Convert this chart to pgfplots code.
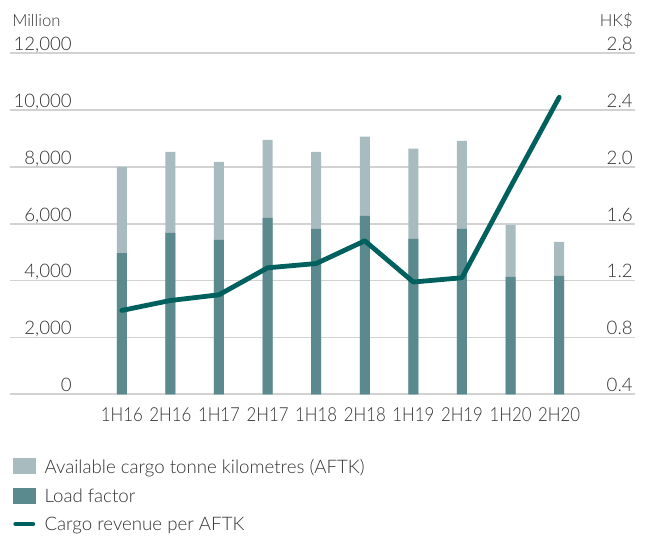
\documentclass[border=0pt]{standalone}
\usepackage{fontspec}
\setmainfont{Lato}[UprightFont={* Light}]
\newfontfamily\narrowfont{Lato}[UprightFont={* Light}, FakeStretch=0.87]
\usepackage{pgfplots}
\pgfplotsset{compat=1.18}
\definecolor{lightbar}{HTML}{A8BBBF}
\definecolor{darkbar}{HTML}{5A8A8D}
\definecolor{linecol}{HTML}{00605E}
\definecolor{gridc}{HTML}{D2D2D2}
\definecolor{txt}{HTML}{333333}
\begin{document}
\begin{tikzpicture}
\useasboundingbox (0pt,0pt) rectangle (484.5pt,403.5pt);
\begin{axis}[
  at={(7.5pt,107.8pt)}, anchor=south west,
  scale only axis, width=468.75pt, height=255.75pt,
  xmin=-2.3, xmax=10.56, ymin=0, ymax=12000,
  ybar, bar width=7.5pt,
  axis line style={draw=none}, major tick length=0pt,
  ymajorgrids, grid style={gridc, line width=1.2pt},
  ytick={0,2000,4000,6000,8000,10000,12000},
  xtick={0,...,9},
  xticklabels={1H16,2H16,1H17,2H17,1H18,2H18,1H19,2H19,1H20,2H20},
  scaled y ticks=false,
  /pgf/number format/1000 sep={,},
  /pgf/number format/assume math mode=true,
  yticklabel style={anchor=base east, inner sep=0pt, xshift=46.5pt, yshift=2pt,
    font=\fontsize{14}{16}\selectfont, text=txt},
  xticklabel style={anchor=north, inner sep=0pt, yshift=-10pt,
    font=\narrowfont\fontsize{14.5}{16}\selectfont, text=txt},
  clip=false,
]
\addplot[fill=lightbar, draw=none, bar shift=0pt] coordinates {
  (0,8000) (1,8530) (2,8180) (3,8950) (4,8530) (5,9070) (6,8640) (7,8920) (8,5960) (9,5360)};
\addplot[fill=darkbar, draw=none, bar shift=0pt] coordinates {
  (0,4970) (1,5680) (2,5430) (3,6210) (4,5820) (5,6280) (6,5470) (7,5820) (8,4130) (9,4170)};
\node[anchor=base west, inner sep=0pt, font=\fontsize{12.5}{14}\selectfont, text=txt]
  at (axis description cs:0.0032,1.078) {Million};
\node[anchor=base east, inner sep=0pt, font=\fontsize{12.5}{14}\selectfont, text=txt]
  at (axis description cs:0.9968,1.078) {HK\$};
\end{axis}
\begin{axis}[
  at={(7.5pt,107.8pt)}, anchor=south west,
  scale only axis, width=468.75pt, height=255.75pt,
  xmin=-2.3, xmax=10.56, ymin=0.4, ymax=2.8,
  axis line style={draw=none}, major tick length=0pt,
  xtick=\empty,
  ytick={0.4,0.8,1.2,1.6,2.0,2.4,2.8},
  yticklabel pos=right,
  /pgf/number format/fixed, /pgf/number format/precision=1,
  /pgf/number format/fixed zerofill,
  /pgf/number format/assume math mode=true,
  yticklabel style={anchor=base east, inner sep=0pt, xshift=-1.5pt, yshift=2pt,
    font=\fontsize{14}{16}\selectfont, text=txt},
  clip=false,
  legend cell align=left,
  legend style={at={(axis description cs:0.0048,-0.1868)}, anchor=north west,
    draw=none, fill=none, inner sep=0pt, outer sep=0pt, row sep=7.85pt,
    font=\fontsize{14}{16}\selectfont, text=txt,
    nodes={inner sep=0pt, text height=10pt, text depth=3pt},
    /tikz/every odd column/.append style={column sep=6.75pt}},
]
\addlegendimage{legend image code/.code={\fill[lightbar] (0pt,-3.5pt) rectangle (16.5pt,7.75pt);}}
\addlegendentry{Available cargo tonne kilometres (AFTK)}
\addlegendimage{legend image code/.code={\fill[darkbar] (0pt,-3.5pt) rectangle (16.5pt,7.75pt);}}
\addlegendentry{Load factor}
\addlegendimage{legend image code/.code={\draw[linecol, line width=3.6pt, line cap=round] (1.8pt,1.5pt) -- (14.7pt,1.5pt);}}
\addlegendentry{Cargo revenue per AFTK}
\addplot[linecol, line width=3.6pt, line cap=round, line join=round, mark=none, forget plot] coordinates {
  (0,0.99) (1,1.06) (2,1.10) (3,1.29) (4,1.32) (5,1.48) (6,1.19) (7,1.22) (8,1.86) (9,2.49)};
\end{axis}
\end{tikzpicture}
\end{document}
